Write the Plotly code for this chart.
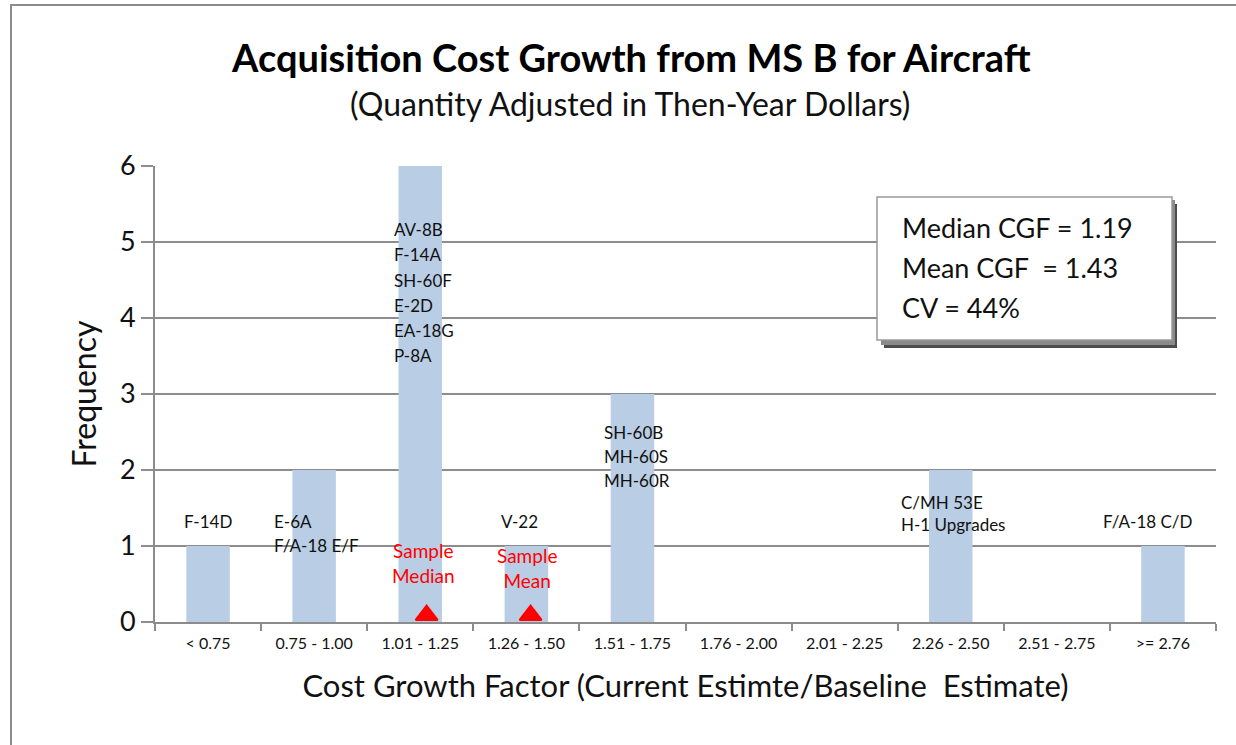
import plotly.graph_objects as go

# ---------------- data ----------------
categories = ["< 0.75", "0.75 - 1.00", "1.01 - 1.25", "1.26 - 1.50", "1.51 - 1.75",
              "1.76 - 2.00", "2.01 - 2.25", "2.26 - 2.50", "2.51 - 2.75", ">= 2.76"]
frequency = [1, 2, 6, 1, 3, 0, 0, 2, 0, 1]
programs = [
    ["F-14D"],
    ["E-6A", "F/A-18 E/F"],
    ["AV-8B", "F-14A", "SH-60F", "E-2D", "EA-18G", "P-8A"],
    ["V-22"],
    ["SH-60B", "MH-60S", "MH-60R"],
    [],
    [],
    ["C/MH 53E", "H-1 Upgrades"],
    [],
    ["F/A-18 C/D"],
]
stat_names = ["Sample<br>Median", "Sample<br>Mean"]
stat_positions = [2.06, 3.04]   # position on the category axis
stats_text = ["Median CGF = 1.19", "Mean CGF  = 1.43", "CV = 44%"]
y_ticks = [0, 1, 2, 3, 4, 5, 6]

# ---------------- layout helpers ----------------
W, H = 1236, 745
L, R, T, B = 155, 20, 166, 123
PW, PH = W - L - R, H - T - B
def px(x): return (x - L) / PW
def py(y): return (H - B - y) / PH

FONT = "Lato"
GRID = "#8c8c8c"
xs = list(range(len(categories)))

fig = go.Figure()
fig.add_trace(go.Bar(x=xs, y=frequency, width=0.41, marker=dict(color="#B9CDE5", line_width=0),
                     showlegend=False, hoverinfo="skip"))
fig.add_trace(go.Scatter(x=stat_positions, y=[0.09] * len(stat_positions), mode="markers",
                         marker=dict(symbol="triangle-up", size=19, color="#FF0000",
                                     line=dict(color="#FF0000", width=2)),
                         cliponaxis=False, showlegend=False, hoverinfo="skip"))

annotations = []
# label placement: (first line y in data units, line step, x offset, anchor)
placement = {
    0: (1.32, 0.31, 0.0, "center"),
    1: (1.32, 0.31, -0.40, "left"),
    2: (5.16, 0.33, -0.265, "left"),
    3: (1.32, 0.31, -0.06, "center"),
    4: (2.49, 0.315, -0.29, "left"),
    7: (1.57, 0.29, -0.49, "left"),
    9: (1.32, 0.31, -0.14, "center"),
}
for i, lines in enumerate(programs):
    if not lines:
        continue
    y0, step, dx, anc = placement[i]
    for k, line in enumerate(lines):
        annotations.append(dict(x=i + dx, y=y0 - k * step, text=line, showarrow=False,
                                xanchor=anc, yanchor="middle",
                                font=dict(family=FONT, size=17, color="#111")))
# red sample labels
for name, pos, yy in zip(stat_names, stat_positions, [0.78, 0.71]):
    annotations.append(dict(x=pos - 0.03, y=yy, text=name, showarrow=False, xanchor="center",
                            yanchor="middle", font=dict(family=FONT, size=19, color="#FF0000")))
# stats box text
for k, t in enumerate(stats_text):
    annotations.append(dict(xref="paper", yref="paper", x=px(900), y=py(227 + k * 40), text=t,
                            showarrow=False, xanchor="left", yanchor="middle",
                            font=dict(family=FONT, size=27, color="#111")))
# titles
annotations.append(dict(xref="paper", yref="paper", x=px(631), y=py(57),
                        text="<b>Acquisition Cost Growth from MS B for Aircraft</b>", showarrow=False,
                        xanchor="center", yanchor="middle", font=dict(family=FONT, size=38, color="#000")))
annotations.append(dict(xref="paper", yref="paper", x=px(630), y=py(103),
                        text="(Quantity Adjusted in Then-Year Dollars)", showarrow=False,
                        xanchor="center", yanchor="middle", font=dict(family=FONT, size=32, color="#111")))

shapes = [
    # outer frame
    dict(type="rect", xref="paper", yref="paper", x0=px(11), x1=px(1260), y0=py(770), y1=py(5),
         line=dict(color="#8c8c8c", width=2), layer="below"),
    # stats box shadow
    dict(type="rect", xref="paper", yref="paper", x0=px(884), x1=px(1177), y0=py(348), y1=py(204),
         fillcolor="#4d4d4d", line=dict(width=0)),
    dict(type="rect", xref="paper", yref="paper", x0=px(881), x1=px(1175), y0=py(345), y1=py(200),
         fillcolor="#8a8a8a", line=dict(width=0)),
    # stats box
    dict(type="rect", xref="paper", yref="paper", x0=px(877), x1=px(1172), y0=py(340), y1=py(197),
         fillcolor="white", line=dict(color="#999999", width=1.5)),
]

fig.update_layout(
    width=W, height=H, margin=dict(l=L, r=R, t=T, b=B),
    paper_bgcolor="white", plot_bgcolor="white",
    font=dict(family=FONT, color="#111"),
    annotations=annotations, shapes=shapes,
    xaxis=dict(range=[-0.5, len(categories) - 0.5], tickvals=xs, ticktext=categories,
               ticks="", tickfont=dict(family=FONT, size=16, color="#111"), ticklabelstandoff=6,
               showline=True, linecolor=GRID, linewidth=2, showgrid=False, zeroline=False,
               minor=dict(tickvals=[i - 0.5 for i in range(len(categories) + 1)], ticks="outside",
                          ticklen=7, tickwidth=2, tickcolor=GRID, showgrid=False),
               title=dict(text="Cost Growth Factor (Current Estimte/Baseline  Estimate)",
                          font=dict(family=FONT, size=31, color="#111"), standoff=24),
               fixedrange=True),
    yaxis=dict(range=[0, 6], tickvals=y_ticks, ticks="outside", ticklen=12, tickwidth=2,
               tickcolor=GRID, tickfont=dict(family=FONT, size=27, color="#111"),
               showline=True, linecolor=GRID, linewidth=2, showgrid=True, gridcolor=GRID,
               gridwidth=2, zeroline=False,
               title=dict(text="Frequency", font=dict(family=FONT, size=32, color="#111"), standoff=14),
               fixedrange=True),
)
fig.write_html("out.html", post_script="document.body.style.margin='0';",
               config={"displayModeBar": False})
